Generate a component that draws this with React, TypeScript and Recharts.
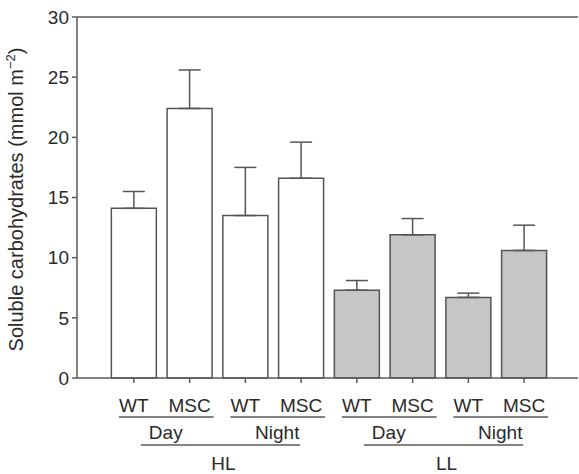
import React from 'react';
import {
  BarChart,
  Bar,
  XAxis,
  YAxis,
  Cell,
  ErrorBar,
  ReferenceLine,
} from 'recharts';

const genotypes = ['WT', 'MSC', 'WT', 'MSC', 'WT', 'MSC', 'WT', 'MSC'];
const periods = ['Day', 'Day', 'Night', 'Night', 'Day', 'Day', 'Night', 'Night'];
const lightLevels = ['HL', 'HL', 'HL', 'HL', 'LL', 'LL', 'LL', 'LL'];
const means = [14.1, 22.4, 13.5, 16.6, 7.3, 11.9, 6.7, 10.6];
const errors = [1.4, 3.2, 4.0, 3.0, 0.8, 1.35, 0.35, 2.1];
const yTicks = [0, 5, 10, 15, 20, 25, 30];

const data = means.map((mean, i) => ({ id: i, mean, err: [0, errors[i]] }));

const W = 579;
const H = 474;
const MARGIN = { top: 17, right: 1, bottom: 0, left: 0 };
const Y_AXIS_W = 77;
const X_AXIS_H = 96;
const PAD = { left: 29, right: 26 };
const PITCH =
  (W - MARGIN.left - MARGIN.right - Y_AXIS_W - PAD.left - PAD.right) / data.length;

const AXIS = '#5a5a5a';
const TEXT = '#2a2a2a';
const FONT = '"Liberation Sans", Arial, Helvetica, sans-serif';

const GroupedTick = (props: any) => {
  const { x, y, index } = props;
  const txt = { fontSize: 19, fill: TEXT, fontFamily: FONT, textAnchor: 'middle' as const };
  return (
    <g>
      <text x={x} y={y + 29} {...txt}>
        {genotypes[index]}
      </text>
      {index % 2 === 0 && (
        <>
          <line x1={x - 15} x2={x + PITCH + 24} y1={y + 34} y2={y + 34} stroke={AXIS} strokeWidth={1.5} />
          <text x={x + PITCH / 2 + 4} y={y + 56} {...txt}>
            {periods[index]}
          </text>
        </>
      )}
      {index % 4 === 0 && (
        <>
          <line x1={x + 7} x2={x + 3 * PITCH - 1} y1={y + 62} y2={y + 62} stroke={AXIS} strokeWidth={1.5} />
          <text x={x + 1.5 * PITCH + 6} y={y + 87} {...txt}>
            {lightLevels[index]}
          </text>
        </>
      )}
    </g>
  );
};

const YLabel = (props: any) => {
  const { viewBox } = props;
  const cx = viewBox.x + 23;
  const cy = viewBox.y + viewBox.height / 2 + 2;
  return (
    <text
      x={cx}
      y={cy}
      transform={`rotate(-90, ${cx}, ${cy})`}
      textAnchor="middle"
      fontSize={20}
      fill={TEXT}
      fontFamily={FONT}
    >
      Soluble carbohydrates (mmol m
      <tspan fontSize={13} dy={-8}>−2</tspan>
      <tspan dy={8}>)</tspan>
    </text>
  );
};

export default function App() {
  return (
    <div style={{ position: 'absolute', left: 0, top: 0, background: '#fff' }}>
      <BarChart width={W} height={H} data={data} margin={MARGIN} barCategoryGap="9.6%">
        <XAxis
          dataKey="id"
          height={X_AXIS_H}
          padding={PAD}
          interval={0}
          tick={<GroupedTick />}
          tickSize={5}
          tickMargin={0}
          axisLine={{ stroke: AXIS, strokeWidth: 1.5 }}
          tickLine={{ stroke: AXIS, strokeWidth: 1.5 }}
        />
        <YAxis
          width={Y_AXIS_W}
          domain={[0, 30]}
          ticks={yTicks}
          interval={0}
          tickSize={5}
          tickMargin={3}
          tick={{ fontSize: 19, fill: TEXT, fontFamily: FONT }}
          axisLine={{ stroke: AXIS, strokeWidth: 1.5 }}
          tickLine={{ stroke: AXIS, strokeWidth: 1.5 }}
          label={<YLabel />}
        />
        <ReferenceLine y={30} stroke={AXIS} strokeWidth={1.5} />
        <Bar dataKey="mean" stroke="#555" strokeWidth={1.5} isAnimationActive={false}>
          {data.map((d, i) => (
            <Cell key={`cell-${i}`} fill={lightLevels[i] === 'HL' ? '#ffffff' : '#c6c6c6'} />
          ))}
          <ErrorBar
            dataKey="err"
            direction="y"
            width={11}
            stroke="#555"
            strokeWidth={1.5}
            isAnimationActive={false}
          />
        </Bar>
      </BarChart>
    </div>
  );
}
